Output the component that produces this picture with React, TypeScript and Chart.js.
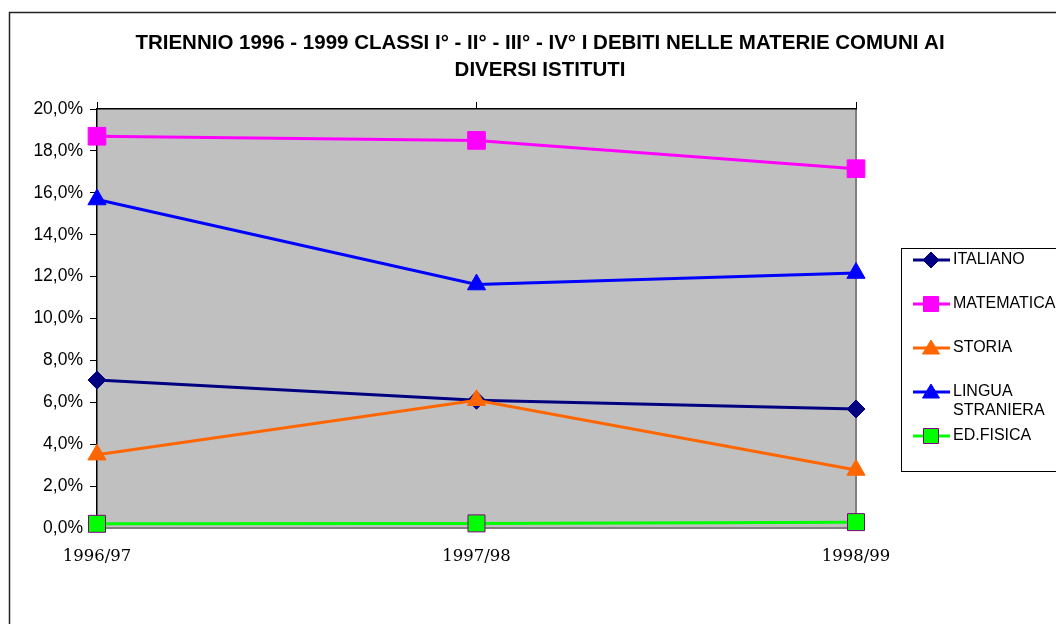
import React, { useEffect, useRef } from "react";
import { Chart, registerables } from "chart.js";

Chart.register(...registerables);

const categories = ["1996/97", "1997/98", "1998/99"];
const seriesNames = ["ITALIANO", "MATEMATICA", "STORIA", "LINGUA STRANIERA", "ED.FISICA"];
const italiano = [7.06, 6.1, 5.68];
const matematica = [18.7, 18.5, 17.15];
const storia = [3.5, 6.1, 2.77];
const lingua = [15.68, 11.62, 12.17];
const edFisica = [0.2, 0.22, 0.28];
const yTicks = [0, 2, 4, 6, 8, 10, 12, 14, 16, 18, 20];
const titleLines = [
  "TRIENNIO 1996 - 1999 CLASSI I° - II° - III° - IV° I DEBITI NELLE MATERIE COMUNI AI",
  "DIVERSI ISTITUTI",
];

const colors = ["#000080", "#FF00FF", "#FF6600", "#0000FF", "#00FF00"];
const borders = ["#000080", "#FF00FF", "#FF6600", "#0000FF", "#800080"];
const styles = ["rectRot", "rect", "triangle", "triangle", "rect"];
const radii = [9, 12.5, 10.5, 10.5, 12];
const legendLabels = [["ITALIANO"], ["MATEMATICA"], ["STORIA"], ["LINGUA", "STRANIERA"], ["ED.FISICA"]];

const decorPlugin = {
  id: "decor",
  beforeDraw(chart: any) {
    const { ctx, chartArea: a } = chart;
    ctx.save();
    ctx.fillStyle = "#FFFFFF";
    ctx.fillRect(0, 0, chart.width, chart.height);
    // outer frame
    ctx.strokeStyle = "#222";
    ctx.lineWidth = 1.5;
    ctx.beginPath();
    ctx.moveTo(9.5, chart.height);
    ctx.lineTo(9.5, 12.5);
    ctx.lineTo(chart.width, 12.5);
    ctx.stroke();
    // plot area
    ctx.fillStyle = "#C0C0C0";
    ctx.fillRect(a.left, a.top, a.right - a.left, a.bottom - a.top);
    ctx.strokeStyle = "#808080";
    ctx.lineWidth = 2;
    ctx.beginPath();
    ctx.moveTo(a.left, a.bottom);
    ctx.lineTo(a.right, a.bottom);
    ctx.lineTo(a.right, a.top);
    ctx.stroke();
    // title
    ctx.fillStyle = "#000";
    ctx.font = "bold 20.5px 'Liberation Sans', Arial, sans-serif";
    ctx.textAlign = "center";
    ctx.textBaseline = "middle";
    titleLines.forEach((t, i) => ctx.fillText(t, 540, 43 + i * 27));
    ctx.restore();
  },
  afterDraw(chart: any) {
    const { ctx } = chart;
    ctx.save();
    ctx.strokeStyle = "#000";
    ctx.lineWidth = 1;
    ctx.strokeRect(901.5, 248.5, 220, 223);
    chart.data.datasets.forEach((ds: any, i: number) => {
      const y = 260 + i * 44;
      ctx.strokeStyle = ds.borderColor;
      ctx.lineWidth = 3;
      ctx.beginPath();
      ctx.moveTo(913, y);
      ctx.lineTo(950, y);
      ctx.stroke();
      ctx.fillStyle = ds.pointBackgroundColor;
      ctx.strokeStyle = ds.pointBorderColor;
      ctx.lineWidth = 1;
      const cx = 931;
      ctx.beginPath();
      if (ds.pointStyle === "rectRot") {
        const r = 8;
        ctx.moveTo(cx, y - r);
        ctx.lineTo(cx + r, y);
        ctx.lineTo(cx, y + r);
        ctx.lineTo(cx - r, y);
        ctx.closePath();
      } else if (ds.pointStyle === "rect") {
        const s = 7.5;
        ctx.rect(cx - s, y - s, 2 * s, 2 * s);
      } else {
        ctx.moveTo(cx, y - 8);
        ctx.lineTo(cx + 8.5, y + 6);
        ctx.lineTo(cx - 8.5, y + 6);
        ctx.closePath();
      }
      ctx.fill();
      ctx.stroke();
      ctx.fillStyle = "#000";
      ctx.font = "16px 'Liberation Sans', Arial, sans-serif";
      ctx.textAlign = "left";
      ctx.textBaseline = "middle";
      legendLabels[i].forEach((t, j) => ctx.fillText(t, 953, y + j * 19));
    });
    ctx.restore();
  },
};

export default function App() {
  const ref = useRef<HTMLCanvasElement>(null);
  useEffect(() => {
    if (!ref.current) return;
    const data = [italiano, matematica, storia, lingua, edFisica];
    const chart = new Chart(ref.current, {
      type: "line",
      data: {
        labels: categories,
        datasets: data.map((d, i) => ({
          label: seriesNames[i],
          data: d,
          borderColor: colors[i],
          backgroundColor: colors[i],
          pointBackgroundColor: colors[i],
          pointBorderColor: borders[i],
          pointBorderWidth: 1,
          pointStyle: styles[i] as any,
          pointRadius: radii[i],
          borderWidth: 3,
          tension: 0,
          clip: false as any,
          order: 4 - i,
          xAxisID: "x",
        })),
      },
      options: {
        responsive: false,
        animation: false,
        layout: { padding: { left: 0, right: 200, top: 102, bottom: 0 } },
        plugins: { legend: { display: false }, title: { display: false }, tooltip: { enabled: false } },
        scales: {
          x: {
            type: "category",
            position: "bottom",
            offset: false,
            grid: { display: false, drawTicks: false },
            border: { display: false },
            ticks: {
              padding: 19,
              color: "#000",
              font: { family: "'DejaVu Serif', serif", size: 16.5 },
              maxRotation: 0,
            },
            afterFit: (s: any) => { s.height = 96; },
          },
          x2: {
            type: "category",
            labels: categories,
            position: "top",
            offset: false,
            grid: { drawOnChartArea: false, drawTicks: true, tickLength: 7, color: "#000", lineWidth: 1 },
            border: { display: true, color: "#000", width: 1.5 },
            ticks: { display: false },
            afterFit: (s: any) => { s.height = 7; },
          },
          y: {
            min: 0,
            max: 20,
            afterBuildTicks: (s: any) => { s.ticks = yTicks.map((v) => ({ value: v })); },
            grid: { drawOnChartArea: false, drawTicks: true, tickLength: 7, color: "#000" },
            border: { display: true, color: "#000", width: 1.5 },
            ticks: {
              padding: 7,
              color: "#000",
              font: { family: "'Liberation Sans', Arial, sans-serif", size: 17.5 },
              callback: (v: any) => Number(v).toFixed(1).replace(".", ",") + "%",
            },
            afterFit: (s: any) => { s.width = 97; },
          },
        },
      },
      plugins: [decorPlugin],
    });
    return () => chart.destroy();
  }, []);
  return (
    <div style={{ position: "fixed", left: 0, top: 0, width: 1056, height: 624, background: "#fff" }}>
      <canvas ref={ref} width={1056} height={624} style={{ display: "block" }} />
    </div>
  );
}
